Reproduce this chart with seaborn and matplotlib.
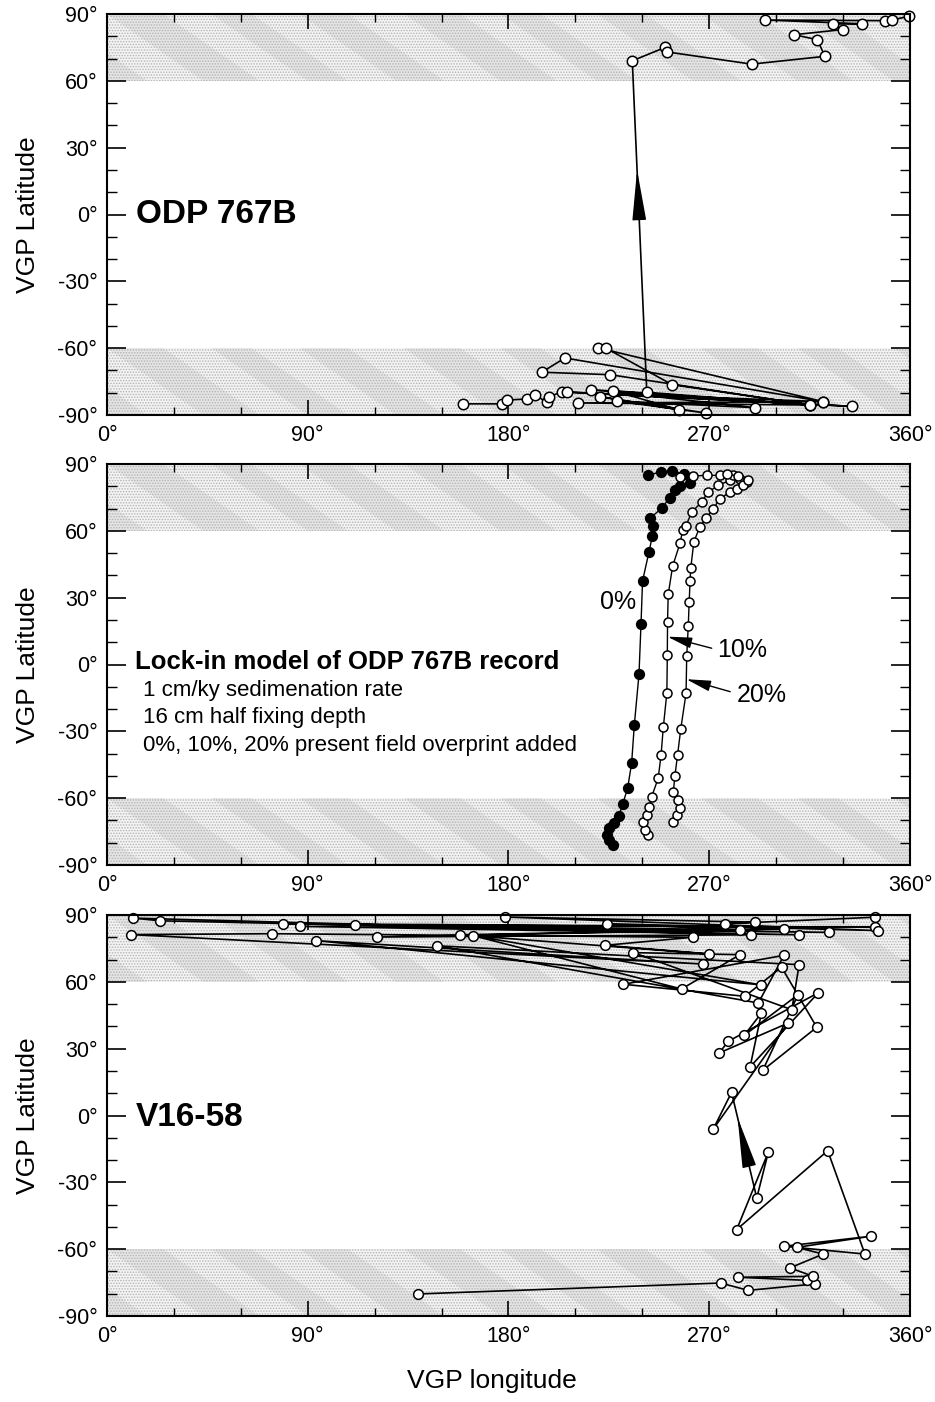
import numpy as np
import pandas as pd
import matplotlib
matplotlib.use('Agg')
import matplotlib.pyplot as plt
from matplotlib.patches import Polygon
import seaborn as sns

# ---------------- data ----------------
# Panel 1: ODP 767B VGP path (lon, lat)
odp_lon = [159.5, 176.9, 179.2, 188.2, 191.9, 197.1, 198.0, 203.9, 333.8, 206.1,
           321.1, 211.3, 315.2, 217.0, 290.5, 228.5, 268.4, 221.0, 256.5, 227.0,
           315.2, 225.5, 194.9, 205.3, 321.1, 220.3, 223.5, 253.4, 315.2, 242.0,
           235.5, 250.2, 250.9, 289.0, 321.9, 318.4, 308.0, 329.8, 325.6, 338.3,
           295.0, 348.8, 351.8, 359.7]
odp_lat = [-85.0, -85.0, -83.3, -82.8, -80.9, -84.3, -82.0, -79.5, -86.1, -79.8,
           -84.0, -84.6, -85.5, -78.6, -86.7, -83.8, -89.1, -81.8, -87.7, -79.1,
           -85.5, -71.9, -70.8, -64.4, -84.0, -59.9, -59.9, -76.4, -85.5, -79.8,
           69.0, 75.0, 73.0, 67.5, 71.0, 78.5, 80.7, 83.0, 85.5, 85.6,
           87.3, 87.0, 87.3, 89.0]
odp_arrow_seg = 29

# Panel 2: lock-in model, 0 %, 10 %, 20 % overprint
p0_lon = [227.0, 225.0, 224.2, 225.0, 227.5, 229.5, 231.2, 233.4, 235.2, 236.4,
          238.5, 239.4, 240.1, 243.0, 244.5, 244.8, 243.4, 248.6, 252.3, 254.6,
          256.9, 261.4, 258.5, 253.5, 248.2, 242.7]
p0_lat = [-81.0, -79.0, -76.5, -73.5, -71.0, -68.0, -62.6, -55.6, -44.3, -27.2,
          -4.4, 18.0, 37.5, 50.6, 57.7, 62.0, 65.6, 70.1, 74.9, 78.3,
          80.2, 81.3, 85.5, 87.0, 86.5, 84.9]
p10_lon = [242.7, 241.2, 240.5, 242.0, 243.2, 244.2, 247.1, 248.4, 249.4, 251.0,
           251.2, 251.3, 251.6, 253.6, 256.9, 258.1, 259.6, 262.1, 266.6, 269.5,
           274.0, 279.3, 283.8, 286.8, 280.8, 274.8, 268.8, 262.8, 256.9]
p10_lat = [-76.5, -74.3, -70.6, -67.5, -63.8, -59.3, -51.1, -40.6, -28.2, -12.7,
           4.3, 19.2, 31.5, 44.2, 54.4, 60.4, 62.3, 68.4, 72.9, 77.4,
           80.4, 82.7, 83.4, 81.9, 84.9, 84.9, 84.9, 84.6, 84.2]
p20_lon = [253.6, 255.4, 256.9, 256.1, 253.9, 254.6, 255.8, 257.2, 259.6, 259.9,
           260.6, 261.0, 261.4, 261.7, 263.1, 265.8, 268.5, 271.8, 274.8, 279.3,
           282.3, 285.3, 287.4, 282.9, 278.0]
p20_lat = [-70.6, -67.5, -64.5, -60.8, -57.1, -50.0, -40.6, -29.1, -12.9, 3.8,
           17.4, 28.2, 37.5, 43.2, 55.1, 61.8, 65.6, 69.9, 74.4, 77.4,
           78.9, 80.4, 82.8, 84.6, 85.5]
lock_title = "Lock-in model of ODP 767B record"
lock_lines = ["1 cm/ky sedimenation rate",
              "16 cm half fixing depth",
              "0%, 10%, 20% present field overprint added"]
curve_labels = ["0%", "10%", "20%"]

# Panel 3: V16-58 VGP path
v_lon = [139.4, 275.1, 287.5, 317.4, 313.6, 283.0, 316.6, 306.2, 321.1, 309.2,
         342.4, 303.5, 339.8, 323.1, 282.3, 296.5, 291.3, 280.0, 271.8, 305.4,
         274.5, 278.5, 318.9, 288.3, 293.4, 285.7, 309.8, 294.0, 318.2, 302.4,
         286.0, 231.5, 303.5, 292.0, 147.8, 310.3, 307.0, 236.0, 283.8, 257.6,
         164.2, 293.4, 93.7, 267.0, 10.8, 73.8, 262.5, 223.3, 270.0, 158.3,
         303.6, 120.9, 288.5, 11.8, 23.8, 310.3, 86.5, 323.8, 78.8, 344.3,
         111.2, 283.8, 224.3, 345.5, 178.5, 290.5, 277.0, 344.3]
v_lat = [-80.1, -75.2, -78.5, -75.6, -74.0, -72.6, -72.2, -68.4, -62.2, -59.2,
         -54.2, -58.7, -62.2, -15.8, -51.2, -16.4, -37.0, 10.4, -6.1, 41.5,
         28.1, 33.3, 55.1, 21.8, 46.0, 36.0, 54.2, 20.3, 39.6, 66.6,
         53.5, 58.9, 71.9, 50.5, 76.2, 67.7, 47.5, 73.1, 72.2, 56.8,
         80.7, 58.6, 78.5, 68.0, 81.2, 81.6, 80.0, 76.4, 72.5, 81.1,
         83.8, 80.1, 81.1, 88.6, 87.4, 81.1, 84.9, 82.2, 86.1, 84.5,
         85.6, 83.4, 86.1, 83.0, 89.1, 86.8, 86.1, 89.0]
v_arrow_seg = 16

panel_titles = ["ODP 767B", None, "V16-58"]
lon_ticks = [0, 90, 180, 270, 360]
lon_ticklabels = ["0°", "90°", "180°", "270°", "360°"]
lat_ticks = [-90, -60, -30, 0, 30, 60, 90]
lat_ticklabels = ["-90°", "-60°", "-30°", "0°", "30°", "60°", "90°"]

# ---------------- style ----------------
sns.set_style('ticks')
plt.rcParams['font.family'] = ['Liberation Sans', 'DejaVu Sans']
plt.rcParams['hatch.linewidth'] = 0.7
for key in ['text.color', 'axes.labelcolor', 'xtick.color', 'ytick.color',
            'axes.edgecolor']:
    plt.rcParams[key] = 'black'

W, H = 935, 1402
fig = plt.figure(figsize=(W / 100, H / 100), dpi=100)
left = 107 / W
width = 803 / W
tops = [14, 464, 915]
ph = 401
axes = [fig.add_axes([left, 1 - (t + ph) / H, width, ph / H]) for t in tops]

# decorative stripe pattern of the stippled polar bands (axes fractions)
stripe_x = [-0.25, -0.12, 0.0, 0.13, 0.24, 0.37, 0.49, 0.61, 0.74, 0.86, 0.98]
stripe_w = [0.06, 0.05, 0.07, 0.05, 0.06, 0.07, 0.05, 0.06, 0.07, 0.05, 0.06]


def shade(ax):
    for (y0, y1) in [(60, 90), (-90, -60)]:
        ax.axhspan(y0, y1, facecolor='#f3f3f3', edgecolor='none', lw=0, zorder=0)
        a0 = (y0 + 90) / 180
        a1 = (y1 + 90) / 180
        for x0, w in zip(stripe_x, stripe_w):
            poly = Polygon([(x0, a1), (x0 + w, a1), (x0 + w + 0.12, a0), (x0 + 0.12, a0)],
                           closed=True, transform=ax.transAxes, facecolor='#e4e4e4',
                           edgecolor='none', zorder=0.1)
            poly.set_clip_path(ax.patch)
            ax.add_patch(poly)
        ax.axhspan(y0, y1, facecolor='none', edgecolor='#b4b4b4', hatch='......',
                   lw=0, zorder=0.2)


def style_axes(ax):
    ax.set_xlim(0, 360)
    ax.set_ylim(-90, 90)
    ax.set_xticks(lon_ticks)
    ax.set_xticklabels(lon_ticklabels)
    ax.set_xticks(np.arange(0, 361, 30), minor=True)
    ax.set_yticks(lat_ticks)
    ax.set_yticklabels(lat_ticklabels)
    ax.set_yticks(np.arange(-90, 91, 10), minor=True)
    ax.tick_params(axis='both', which='both', direction='in', top=True, right=True,
                   colors='k', labelsize=15.5, labelcolor='k')
    ax.tick_params(axis='x', which='major', length=11, width=1.2, pad=7)
    ax.tick_params(axis='x', which='minor', length=6, width=1.0)
    ax.tick_params(axis='y', which='major', length=14, width=1.2, pad=7)
    ax.tick_params(axis='y', which='minor', length=7, width=1.0)
    for s in ax.spines.values():
        s.set_linewidth(1.5)
        s.set_color('k')
        s.set_zorder(5)
    ax.set_xlabel('')
    ax.set_ylabel('VGP Latitude', fontsize=19, color='k')
    ax.yaxis.set_label_coords(-0.083, 0.5)


def path(ax, lon, lat, mfc='white', ms=7.5, lw=1.2, z=3):
    df = pd.DataFrame({'lon': lon, 'lat': lat})
    sns.lineplot(data=df, x='lon', y='lat', sort=False, estimator=None, ax=ax,
                 color='k', lw=lw, marker='o', markersize=ms, markerfacecolor=mfc,
                 markeredgecolor='k', markeredgewidth=1.1, clip_on=False, zorder=z)


def seg_arrow(ax, lon, lat, i, lat_tip, lat_base, ms=20, hl=1.6, hw=0.22):
    x0, y0, x1, y1 = lon[i], lat[i], lon[i + 1], lat[i + 1]

    def at(la):
        t = (la - y0) / (y1 - y0)
        return (x0 + t * (x1 - x0), la)
    ax.annotate('', xy=at(lat_tip), xytext=at(lat_base),
                arrowprops=dict(arrowstyle=f'-|>,head_length={hl},head_width={hw}',
                                color='k', lw=1.0, shrinkA=0, shrinkB=0,
                                mutation_scale=ms), zorder=4)


for ax in axes:
    shade(ax)

# Panel 1
ax = axes[0]
path(ax, odp_lon, odp_lat, ms=7.5)
seg_arrow(ax, odp_lon, odp_lat, odp_arrow_seg, 20, -1)
ax.text(13, 0, panel_titles[0], fontsize=24, fontweight='bold', ha='left', va='center',
        color='k')

# Panel 2
ax = axes[1]
path(ax, p0_lon, p0_lat, mfc='k', ms=7, lw=1.0, z=3)
path(ax, p10_lon, p10_lat, mfc='white', ms=6.5, lw=1.0, z=3.2)
path(ax, p20_lon, p20_lat, mfc='white', ms=6.5, lw=1.0, z=3.4)
ax.text(12.6, 1.1, lock_title, fontsize=18.5, fontweight='bold', ha='left', va='center',
        color='k')
for j, line in enumerate(lock_lines):
    ax.text(16, -11.6 - 12.3 * j, line, fontsize=16, ha='left', va='center', color='k')
ax.text(237.2, 28, curve_labels[0], fontsize=18, ha='right', va='center', color='k')


def curve_arrow(ax, lon, lat, lat_tip, text, text_xy, tail_xy):
    order = np.argsort(lat[:12])
    lat_arr = np.asarray(lat[:12])[order]
    lon_arr = np.asarray(lon[:12])[order]
    tip = (float(np.interp(lat_tip, lat_arr, lon_arr)), lat_tip)
    ax.annotate('', xy=tip, xytext=tail_xy,
                arrowprops=dict(arrowstyle='-|>,head_length=1.0,head_width=0.22',
                                color='k', lw=1.0, shrinkA=0, shrinkB=0,
                                mutation_scale=15), zorder=4)
    ax.text(text_xy[0], text_xy[1], text, fontsize=18, ha='left', va='center', color='k')


curve_arrow(ax, p10_lon, p10_lat, 12.5, curve_labels[1], (273.5, 6.5), (271.1, 7.3))
curve_arrow(ax, p20_lon, p20_lat, -6.6, curve_labels[2], (282.5, -13.7), (279.4, -12.2))

# Panel 3
ax = axes[2]
path(ax, v_lon, v_lat, ms=7)
seg_arrow(ax, v_lon, v_lat, v_arrow_seg, -1, -22)
ax.text(13, -1, panel_titles[2], fontsize=24, fontweight='bold', ha='left', va='center',
        color='k')

for ax in axes:
    style_axes(ax)

axes[2].set_xlabel('VGP longitude', fontsize=19, color='k')
axes[2].xaxis.set_label_coords(0.479, -0.132)

fig.savefig('out.png', dpi=100)
